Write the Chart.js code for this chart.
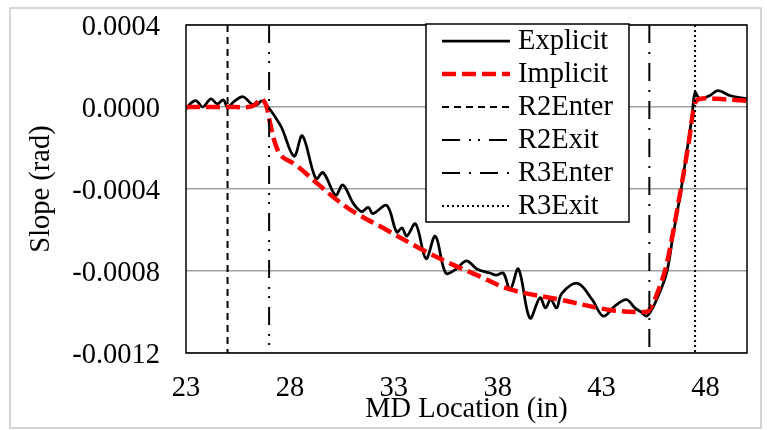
<!DOCTYPE html>
<html>
<head>
<meta charset="utf-8">
<title>Slope vs MD Location</title>
<script src="https://cdn.jsdelivr.net/npm/chart.js@4.4.1/dist/chart.umd.min.js"></script>
<style>
  html, body { margin: 0; padding: 0; background: #fff; }
</style>
</head>
<body>
<canvas id="slopeChart" width="767" height="430"></canvas>
<script>
// Explicit solution (MD location in inches, slope in rad)
const explicitX = [23.0, 23.25, 23.5, 23.8, 24.2, 24.5, 24.8, 25.0, 25.35, 25.75, 26.15, 26.4, 26.65, 26.95,
  27.3, 27.6, 28.2, 28.6, 29.25, 29.6, 30.2, 30.55, 31.05, 31.45, 31.77, 32.0, 32.66, 33.14, 33.4, 33.62,
  34.05, 34.55, 35.0, 35.5, 36.0, 36.5, 37.0, 37.63, 37.95, 38.27, 38.6, 39.0, 39.55, 40.04, 40.3, 40.55,
  40.84, 41.08, 41.85, 42.55, 43.08, 43.65, 44.2, 44.6, 44.9, 45.15, 45.35, 45.65, 46.13, 46.45, 46.8,
  47.1, 47.35, 47.5, 47.73, 48.2, 48.6, 49.2, 50.0];
const explicitY = [-0.00001, 0.00002, 0.00003, 0.0, 0.00004, 0.000015, 0.000035, 0.0, 0.00003, 0.00005, 0.000015, 0.00001, 0.00003, 0.0,
  -0.00005, -0.0001, -0.00024, -0.00014, -0.00035, -0.00032, -0.00043, -0.00038, -0.00047, -0.00051, -0.00049, -0.00052, -0.00048, -0.00061, -0.00059, -0.00063,
  -0.00057, -0.00074, -0.00063, -0.00081, -0.00079, -0.00075, -0.00079, -0.00081, -0.00082, -0.00081, -0.00089, -0.00079, -0.00103, -0.00093, -0.00098, -0.00094,
  -0.00098, -0.00091, -0.00086, -0.00094, -0.00102, -0.00097, -0.00094, -0.00098, -0.001, -0.00102, -0.001, -0.00094, -0.00081, -0.00062, -0.00042,
  -0.00022, -0.00005, 0.00007, 0.00004, 0.000055, 0.00008, 0.000055, 0.00004];

// Implicit solution
const implicitX = [23, 24, 25, 26, 26.3, 26.6, 26.85, 27.05, 27.3, 27.6, 28.25, 29.4, 30.1, 31.05, 32.66,
  34.26, 35.86, 37.0, 38.6, 41.0, 43.4, 45.1, 45.3, 45.6, 46.1, 46.8, 47.2, 47.5, 47.75, 48.5, 50];
const implicitY = [0, 0, 0, 0, 0.00001, 0.00004, 0.00001, -0.00008, -0.00018, -0.00024, -0.00028, -0.00038, -0.00044, -0.00051, -0.0006,
  -0.00069, -0.00077, -0.00082, -0.00089, -0.00094, -0.00099, -0.001, -0.00099, -0.00093, -0.00078, -0.00041, -0.00017, 0.00002, 0.00004, 0.00004, 0.00003];

// Region boundaries
const regionLabels = ['R2Enter', 'R2Exit', 'R3Enter', 'R3Exit'];
const regionMD = [25, 27, 45.3, 47.5];
const regionDash = [[7, 5], [18, 9, 2, 7, 2, 9], [18, 9, 2, 9], [2, 3]];

// Axis ticks
const xTicks = [23, 28, 33, 38, 43, 48];
const yTicks = [0.0004, 0.0, -0.0004, -0.0008, -0.0012];

const serif = "'Liberation Serif', 'Times New Roman', serif";
const fontSize = 28.5;
const yMax = yTicks[0];
const yMin = yTicks[yTicks.length - 1];

const toPoints = (xs, ys) => xs.map((x, i) => ({ x: x, y: ys[i] }));

const datasets = [
  {
    label: 'Explicit',
    data: toPoints(explicitX, explicitY),
    borderColor: '#000',
    borderWidth: 2.75,
    tension: 0.35
  },
  {
    label: 'Implicit',
    data: toPoints(implicitX, implicitY),
    borderColor: '#ff0000',
    borderWidth: 4.5,
    borderDash: [14, 6],
    tension: 0.35
  }
];
regionLabels.forEach((name, i) => {
  datasets.push({
    label: name,
    data: [{ x: regionMD[i], y: yMax }, { x: regionMD[i], y: yMin }],
    borderColor: '#000',
    borderWidth: 2,
    borderDash: regionDash[i]
  });
});
// later series sit on top, like the spreadsheet
datasets.forEach((ds, i) => {
  ds.order = datasets.length - i;
  ds.pointRadius = 0;
  ds.fill = false;
});

// Outer border, plot frame and the in-plot legend
const framePlugin = {
  id: 'frame',
  beforeDraw(chart) {
    const ctx = chart.ctx;
    ctx.save();
    ctx.strokeStyle = '#c8c8c8';
    ctx.lineWidth = 1.5;
    ctx.strokeRect(10, 8, 751, 420);
    ctx.restore();
  },
  afterDatasetsDraw(chart) {
    const { ctx, chartArea: a } = chart;
    ctx.save();
    ctx.strokeStyle = '#000';
    ctx.lineWidth = 1.5;
    ctx.strokeRect(a.left, a.top, a.right - a.left, a.bottom - a.top);
    ctx.restore();
  },
  afterDraw(chart) {
    const ctx = chart.ctx;
    const box = { left: 426, top: 24, width: 203, height: 198 };
    ctx.save();
    ctx.fillStyle = '#fff';
    ctx.fillRect(box.left, box.top, box.width, box.height);
    ctx.strokeStyle = '#000';
    ctx.lineWidth = 1.5;
    ctx.strokeRect(box.left, box.top, box.width, box.height);

    ctx.font = fontSize + 'px ' + serif;
    ctx.textBaseline = 'middle';
    ctx.textAlign = 'left';
    chart.data.datasets.forEach((ds, i) => {
      const y = box.top + 17 + i * 33;
      ctx.beginPath();
      ctx.setLineDash(ds.borderDash || []);
      ctx.strokeStyle = ds.borderColor;
      ctx.lineWidth = ds.borderWidth;
      ctx.moveTo(442, y);
      ctx.lineTo(510, y);
      ctx.stroke();
      ctx.setLineDash([]);
      ctx.fillStyle = '#000';
      ctx.fillText(ds.label, 518, y + 1);
    });
    ctx.restore();
  }
};

new Chart(document.getElementById('slopeChart').getContext('2d'), {
  type: 'line',
  data: { datasets: datasets },
  options: {
    responsive: false,
    animation: false,
    layout: { padding: { top: 25, right: 20, bottom: 0, left: 0 } },
    plugins: {
      legend: { display: false },
      tooltip: { enabled: false }
    },
    scales: {
      x: {
        type: 'linear',
        min: 23,
        max: 50,
        afterBuildTicks: (scale) => { scale.ticks = xTicks.map(v => ({ value: v })); },
        afterFit: (scale) => { scale.height = 77; },
        grid: { display: false, drawTicks: false },
        border: { display: false },
        ticks: {
          autoSkip: false,
          maxRotation: 0,
          padding: 18,
          color: '#000',
          font: { family: serif, size: fontSize }
        },
        title: {
          display: true,
          text: 'MD Location (in)',
          color: '#000',
          font: { family: serif, size: fontSize },
          padding: { top: 0, bottom: 3 }
        }
      },
      y: {
        min: yMin,
        max: yMax,
        afterBuildTicks: (scale) => { scale.ticks = yTicks.map(v => ({ value: v })); },
        afterFit: (scale) => {
          scale.width = 186;
          // label padding is horizontal only here
          scale.paddingTop = 0;
          scale.paddingBottom = 0;
        },
        grid: { color: '#a0a0a0', lineWidth: 1.5, drawTicks: false },
        border: { display: false },
        ticks: {
          padding: 26,
          labelOffset: 3,
          color: '#000',
          font: { family: serif, size: fontSize },
          callback: (v) => Number(v).toFixed(4)
        },
        title: {
          display: true,
          text: 'Slope (rad)',
          color: '#000',
          font: { family: serif, size: fontSize },
          padding: { top: 24, bottom: 0 }
        }
      }
    }
  },
  plugins: [framePlugin]
});
</script>
</body>
</html>
